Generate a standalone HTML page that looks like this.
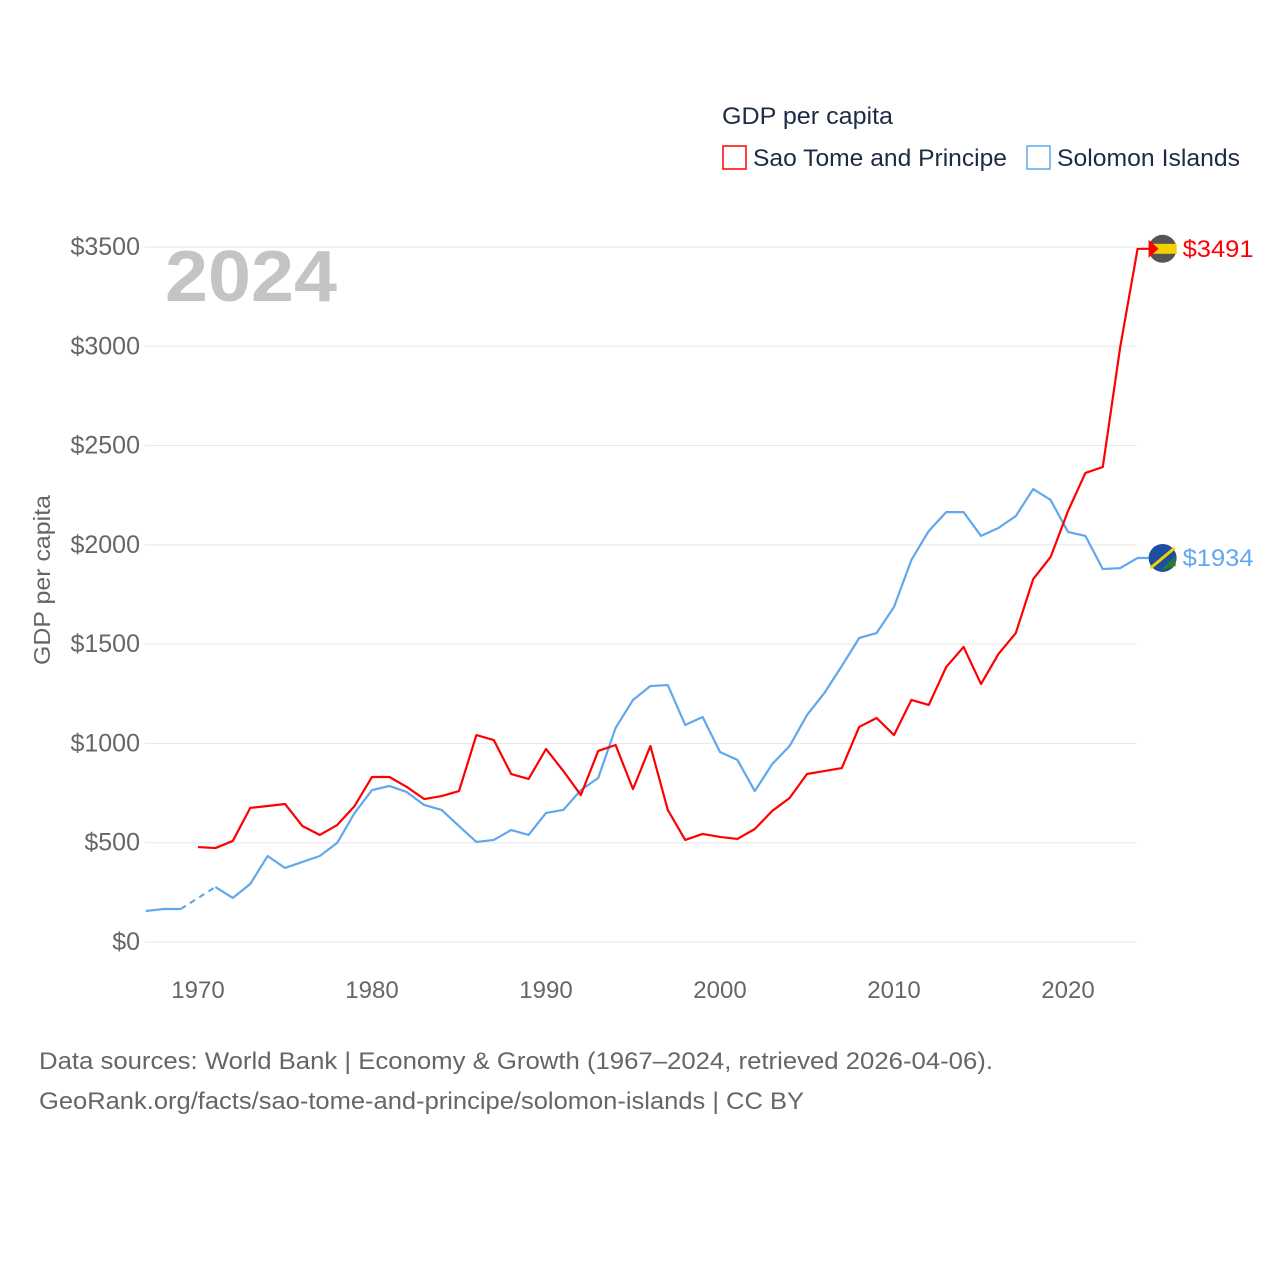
<!DOCTYPE html>
<html><head><meta charset="utf-8"><style>
body{margin:0;background:#fff;font-family:"Liberation Sans",sans-serif}
svg text{font-family:"Liberation Sans",sans-serif}
</style></head><body>
<svg id="chart" width="1280" height="1280" viewBox="0 0 1280 1280">
<text x="722" y="124" font-size="24" fill="#1d2b44" textLength="171" lengthAdjust="spacingAndGlyphs">GDP per capita</text>
<g><rect x="723" y="146" width="23" height="23" fill="none" stroke="#ff0000" stroke-width="1.5"/><text x="753" y="166" font-size="24" fill="#1d2b44" textLength="254" lengthAdjust="spacingAndGlyphs">Sao Tome and Principe</text></g>
<g><rect x="1027" y="146" width="23" height="23" fill="none" stroke="#5fa8ee" stroke-width="1.5"/><text x="1057" y="166" font-size="24" fill="#1d2b44" textLength="183" lengthAdjust="spacingAndGlyphs">Solomon Islands</text></g>
<text x="165" y="301" font-size="72" font-weight="bold" fill="#c4c4c4" textLength="172" lengthAdjust="spacingAndGlyphs">2024</text>
<text transform="translate(50,580) rotate(-90)" text-anchor="middle" font-size="23" fill="#666" textLength="170" lengthAdjust="spacingAndGlyphs">GDP per capita</text>
<g id="grid"></g><g id="yt"></g><g id="xt"></g><g id="lines"></g><g id="ends"></g>
<text x="39" y="1069" font-size="24" fill="#666" textLength="954" lengthAdjust="spacingAndGlyphs">Data sources: World Bank | Economy &amp; Growth (1967–2024, retrieved 2026-04-06).</text>
<text x="39" y="1109" font-size="24" fill="#666" textLength="765" lengthAdjust="spacingAndGlyphs">GeoRank.org/facts/sao-tome-and-principe/solomon-islands | CC BY</text>
</svg>
<script>
const yTicks=[0,500,1000,1500,2000,2500,3000,3500];
const xTicks=[1970,1980,1990,2000,2010,2020];
const solYears0=1967;
const solomon=[156,166,166,null,277,222,292,433,373,403,433,499,650,765,786,755,690,665,584,504,514,564,539,650,665,765,826,1078,1219,1289,1294,1093,1133,957,917,760,896,987,1143,1254,1390,1531,1556,1687,1924,2070,2165,2165,2045,2085,2145,2281,2226,2065,2045,1878,1883,1934];
const stpYears0=1970;
const saoTome=[478,473,509,675,685,695,584,539,589,685,831,831,781,720,735,760,1042,1017,846,821,972,861,740,962,992,770,987,665,514,544,529,519,569,660,725,846,861,876,1083,1128,1042,1219,1194,1385,1486,1299,1450,1556,1828,1939,2170,2362,2392,2996,3491];
const NS="http://www.w3.org/2000/svg";
const X=y=>145.8+(y-1967)*17.4, Y=v=>942-v*0.19857;
function mk(t,a,p){const e=document.createElementNS(NS,t);for(const k in a)e.setAttribute(k,a[k]);p.appendChild(e);return e;}
const g=document.getElementById('grid'),yt=document.getElementById('yt'),xt=document.getElementById('xt'),L=document.getElementById('lines'),E=document.getElementById('ends');
yTicks.forEach(v=>{
 const l=mk('line',{x1:145,x2:1137,y1:Y(v),y2:Y(v),stroke:'#e6e6e6','stroke-width':1},g);
 
 
 const t=mk('text',{x:140,y:Y(v)+8,'text-anchor':'end','font-size':25,fill:'#666'},yt);t.textContent='$'+v;
 
 
});
xTicks.forEach(v=>{
 const t=mk('text',{x:X(v),y:998,'text-anchor':'middle','font-size':24,fill:'#666'},xt);t.textContent=v;
 
 
});
function draw(arr,y0,col,name){
 let segs=[],cur=[];
 arr.forEach((v,i)=>{if(v==null){if(cur.length)segs.push(cur);cur=[];}else cur.push([X(y0+i),Y(v)]);});
 if(cur.length)segs.push(cur);
 const last=arr[arr.length-1],lx=X(y0+arr.length-1)+25,ly=Y(last);
 segs[segs.length-1].push([lx-14,ly]);
 segs.forEach(s=>{const p=mk('polyline',{points:s.map(q=>q.join(',')).join(' '),fill:'none',stroke:col,'stroke-width':2.2,'stroke-linejoin':'round'},L);
  
  });
 for(let i=1;i<arr.length-1;i++){if(arr[i]==null&&arr[i-1]!=null&&arr[i+1]!=null){
  const d=mk('line',{x1:X(y0+i-1),y1:Y(arr[i-1]),x2:X(y0+i+1),y2:Y(arr[i+1]),stroke:col,'stroke-width':2.2,'stroke-dasharray':'6,5'},L);
  
  }}
 const c=mk('circle',{cx:lx,cy:ly,r:14,fill:name==='sao-tome'?'#555':'#1c4fa0'},E);
 
 
 if(name==='sao-tome'){mk('rect',{x:lx-14,y:ly-5,width:28,height:10,fill:'#f3d000'},E);mk('path',{d:`M${lx-14},${ly-9} L${lx-4},${ly} L${lx-14},${ly+9}Z`,fill:'#ff0000'},E);}
 else{mk('line',{x1:lx-12,y1:ly+10,x2:lx+12,y2:ly-10,stroke:'#f3d000','stroke-width':3},E);mk('path',{d:`M${lx-2},${ly+12} L${lx+13},${ly-2} L${lx+13},${ly+8}Z`,fill:'#2a7a2a'},E);}
 const t=mk('text',{x:lx+20,y:ly+8,'font-size':24,fill:col,textLength:71,lengthAdjust:'spacingAndGlyphs'},E);t.textContent='$'+last;
 
 
}
draw(solomon,solYears0,'#5fa8ee','solomon');
draw(saoTome,stpYears0,'#ff0000','sao-tome');
</script>
</body></html>
